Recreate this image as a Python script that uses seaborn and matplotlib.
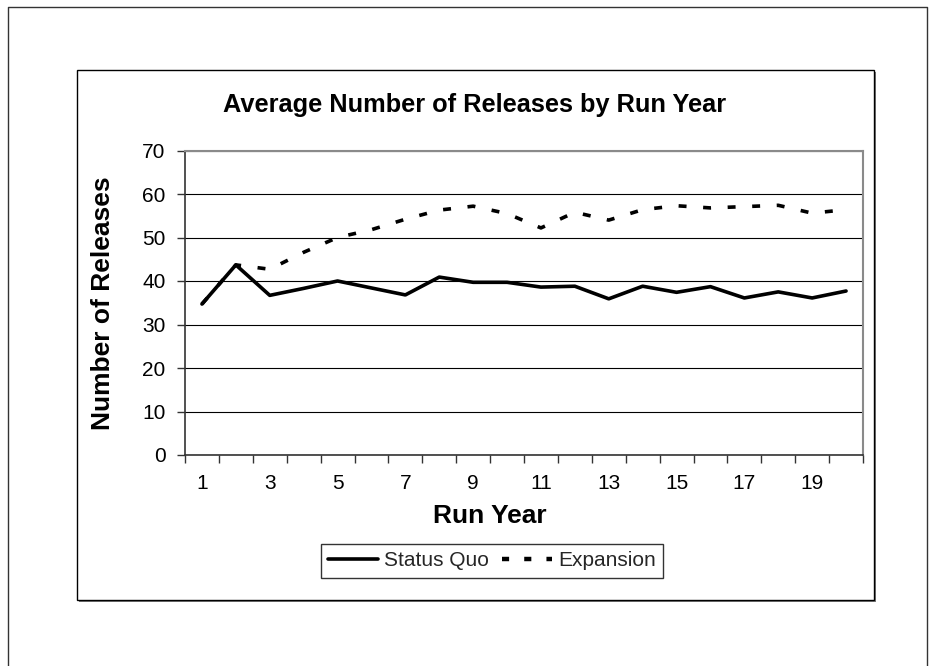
import matplotlib
matplotlib.use("Agg")
import matplotlib.pyplot as plt
from matplotlib.lines import Line2D
from matplotlib.patches import Rectangle
import seaborn as sns
import pandas as pd
import numpy as np

# Average number of releases per run year for the two scenarios
run_years = list(range(1, 21))
status_quo = [34.7, 43.7, 36.7, 38.3, 40.0, 38.4, 36.8, 40.9, 39.7, 39.7,
              38.6, 38.8, 35.9, 38.8, 37.4, 38.7, 36.1, 37.5, 36.1, 37.7]
expansion = [34.7, 43.7, 42.7, 46.6, 50.0, 51.8, 54.2, 56.3, 57.2, 55.5,
             52.2, 55.8, 54.0, 56.4, 57.3, 56.8, 57.1, 57.4, 55.6, 56.4]
series_names = ["Status Quo", "Expansion"]
y_ticks = [0, 10, 20, 30, 40, 50, 60, 70]
x_tick_labels = [1, 3, 5, 7, 9, 11, 13, 15, 17, 19]

df = pd.DataFrame({
    "Run Year": run_years * 2,
    "Number of Releases": status_quo + expansion,
    "Scenario": [series_names[0]] * len(run_years) + [series_names[1]] * len(run_years),
})

sns.set_theme(style="white")
plt.rcParams["font.family"] = ["Liberation Sans", "DejaVu Sans"]

W, H = 935, 666
fig = plt.figure(figsize=(W / 100, H / 100), dpi=100)
fig.patch.set_facecolor("white")


def fx(x):
    return x / W


def fy(y):
    return 1 - y / H


# outer sheet frame (top, left, right)
fig.add_artist(Line2D([fx(8), fx(8), fx(927), fx(927)],
                      [0, fy(7), fy(7), 0], color="#333333", lw=1.0,
                      transform=fig.transFigure))

# chart area box with a small drop shadow
fig.add_artist(Rectangle((fx(79), fy(602)), fx(874) - fx(77), fy(70) - fy(600),
                         transform=fig.transFigure, facecolor="#7a7a7a",
                         edgecolor="none", zorder=0))
fig.add_artist(Rectangle((fx(77), fy(600)), fx(874) - fx(77), fy(70) - fy(600),
                         transform=fig.transFigure, facecolor="white",
                         edgecolor="black", lw=1.0, zorder=0.5))

px_left, px_right, px_top, px_bottom = 185, 863, 150.5, 455
ax = fig.add_axes([fx(px_left), fy(px_bottom), fx(px_right) - fx(px_left),
                   fy(px_top) - fy(px_bottom)])
ax.set_zorder(2)

line_w = 2.6
dash_pattern = (2.2, 4.6)
sns.lineplot(data=df, x="Run Year", y="Number of Releases", style="Scenario",
             dashes={series_names[0]: "", series_names[1]: dash_pattern},
             color="black", linewidth=line_w, ax=ax, legend=False, zorder=3)

ax.set_xlim(0.5, 20.5)
ax.set_ylim(0, 70)
ax.set_yticks(y_ticks)
ax.yaxis.grid(True, color="black", lw=0.8)
ax.set_axisbelow(True)

# category labels on odd years, tick marks between categories
ax.set_xticks(x_tick_labels)
ax.set_xticklabels([str(v) for v in x_tick_labels])
ax.set_xticks(np.arange(0.5, 21, 1), minor=True)
ax.tick_params(axis="x", which="major", length=0, pad=14, labelsize=15,
               colors="black")
ax.tick_params(axis="x", which="minor", length=6, width=1.0, direction="out",
               color="#333333", bottom=True)
ax.tick_params(axis="y", which="major", length=6, width=1.0, direction="out",
               pad=8, labelsize=15, labelcolor="black", color="#333333",
               left=True)

for side in ["left", "bottom"]:
    ax.spines[side].set_color("#333333")
    ax.spines[side].set_linewidth(1.2)
for side in ["top", "right"]:
    ax.spines[side].set_color("#8a8a8a")
    ax.spines[side].set_linewidth(1.5)

ax.set_ylabel("Number of Releases", fontsize=19, fontweight="bold",
              va="center", color="black")
ax.yaxis.set_label_coords((103 - px_left) / (px_right - px_left), 0.5)
ax.set_xlabel("Run Year", fontsize=19, fontweight="bold", va="center",
              color="black")
ax.xaxis.set_label_coords((490 - px_left) / (px_right - px_left),
                          (px_bottom - 516) / (px_bottom - px_top))

fig.text(fx(475), fy(105), "Average Number of Releases by Run Year",
         ha="center", va="center", fontsize=18.3, fontweight="bold",
         color="black")

handles = [Line2D([], [], color="black", lw=line_w),
           Line2D([], [], color="black", lw=line_w + 0.6,
                  dashes=(1.6, 3.4))]
leg = fig.legend(handles, series_names, loc="center",
                 bbox_to_anchor=(fx(492), fy(561)), ncol=2, frameon=True,
                 fancybox=False, edgecolor="black", fontsize=15,
                 handlelength=2.4, handletextpad=0.3, columnspacing=0.6,
                 borderpad=0.35, borderaxespad=0)
leg.get_frame().set_linewidth(1.0)
leg.set_zorder(5)

fig.savefig("out.png", dpi=100, facecolor="white")
